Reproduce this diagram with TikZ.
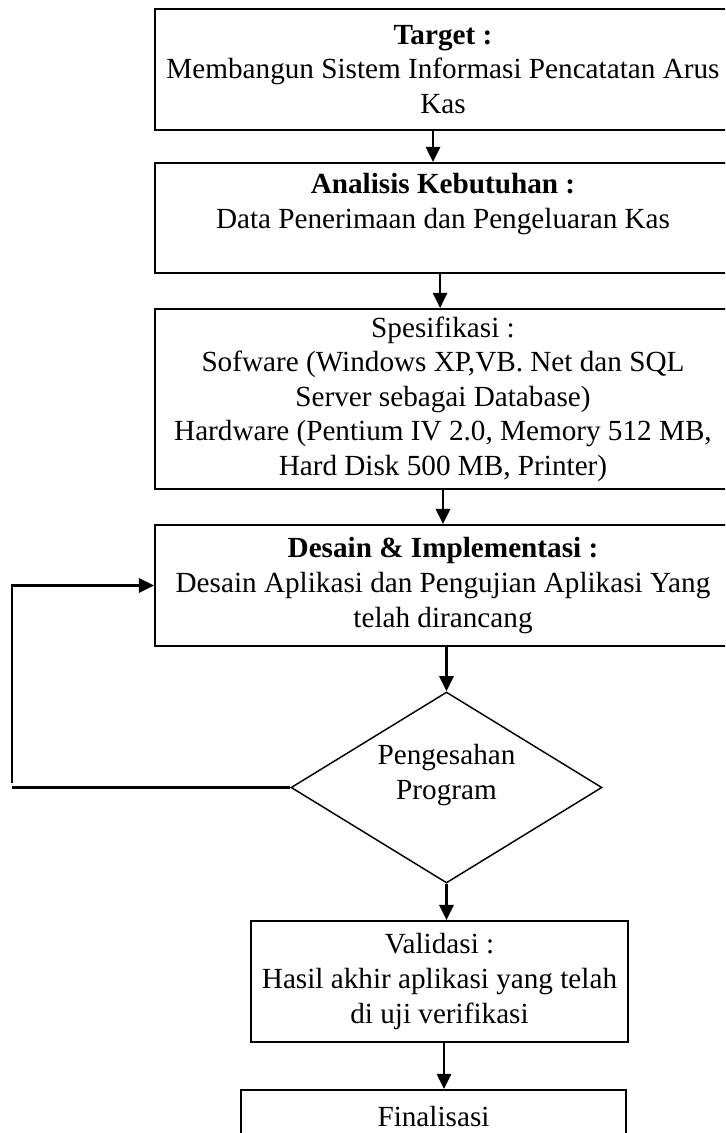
\documentclass[tikz,border=0pt]{standalone}
\usepackage{fontspec}
\setmainfont{Liberation Serif}
\usetikzlibrary{shapes.geometric,arrows.meta}
\begin{document}
\begin{tikzpicture}[x=0.411pt,y=-0.411pt,
  font=\fontsize{12pt}{14.2pt}\selectfont,
  box/.style={draw=black,line width=0.8pt,rectangle,align=center,inner sep=0pt,minimum width=236.7pt},
  dec/.style={draw=black,line width=0.6pt,diamond,inner sep=0pt,minimum width=127.8pt,minimum height=78.5pt},
  arr/.style={draw=black,line width=1pt,-{Triangle[length=6.2pt,width=5.8pt]}},
  plain/.style={draw=black,line width=1pt}]
\useasboundingbox (0,0) rectangle (725,1133);
\clip (0,0) rectangle (725,1133);
\node[box,minimum height=49.7pt] (b1) at (443,69.5) {\textbf{Target :}\\Membangun Sistem Informasi Pencatatan Arus\\Kas};
\node[box,minimum height=45.2pt] (b2) at (443,218) {\textbf{Analisis Kebutuhan :}\\Data Penerimaan dan Pengeluaran Kas\\\mbox{}};
\node[box,minimum height=74pt] (b3) at (443,399) {Spesifikasi :\\Sofware (Windows XP,VB. Net dan SQL\\Server sebagai Database)\\Hardware (Pentium IV 2.0, Memory 512 MB,\\Hard Disk 500 MB, Printer)};
\node[box,minimum height=49.7pt] (b4) at (443,585.5) {\textbf{Desain \& Implementasi :}\\Desain Aplikasi dan Pengujian Aplikasi Yang\\telah dirancang};
\node[dec] (dia) at (446.5,787.5) {};
\node[align=center,inner sep=0pt] (dlab) at (446.5,775) {Pengesahan\\Program};
\node[box,minimum width=154.9pt,minimum height=49.7pt] (b5) at (439.5,981.5) {Validasi :\\Hasil akhir aplikasi yang telah\\di uji verifikasi};
\node[box,minimum width=158.2pt,minimum height=49.7pt,anchor=north] (b6) at (433.5,1089) {Finalisasi\\\mbox{}\\\mbox{}};
\coordinate (fbA) at (12,787.5);
\coordinate (fbB) at (12,783);
\draw[arr] ([xshift=-4.1pt]b1.south) -- ([xshift=-4.1pt]b2.north);
\draw[arr] ([xshift=-1.2pt]b2.south) -- ([xshift=-1.2pt]b3.north);
\draw[arr] (b3.south) -- (b4.north);
\draw[arr] (b4.south -| dia.north) -- (dia.north);
\draw[arr] (dia.south) -- (dia.south |- b5.north);
\draw[arr] ([xshift=1.85pt]b5.south) -- ([xshift=1.85pt]b5.south |- b6.north);
\draw[plain] (dia.west) -- (fbA);
\draw[arr] (fbB) |- (b4.west);
\end{tikzpicture}
\end{document}
